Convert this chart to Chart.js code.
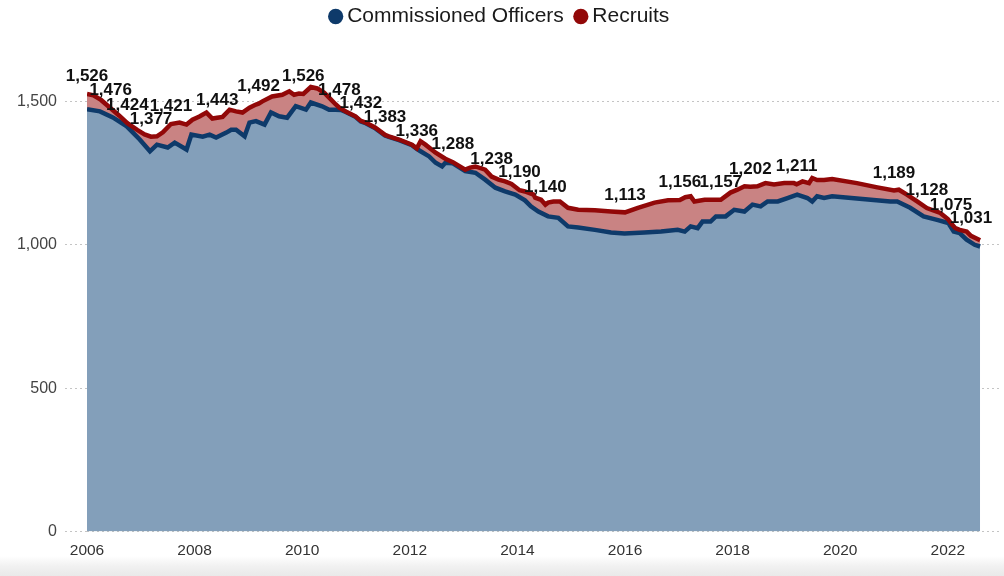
<!DOCTYPE html>
<html><head><meta charset="utf-8">
<script src="https://cdn.jsdelivr.net/npm/chart.js@4.4.1/dist/chart.umd.min.js"></script>
<style>
html,body{margin:0;padding:0;}
body{width:1004px;height:576px;overflow:hidden;background:linear-gradient(to bottom,#ffffff 0,#ffffff 556px,#f1f1f1 566px,#e9e9e9 576px);}
</style></head><body>
<canvas id="c" width="1004" height="576"></canvas>
<script>
// Commissioned Officers (bottom series)
const officerYears = [2006.00,2006.24,2006.48,2006.74,2006.98,2007.17,2007.30,2007.50,2007.63,2007.85,2007.94,2008.15,2008.28,2008.40,2008.59,2008.68,2008.77,2008.93,2009.02,2009.14,2009.30,2009.42,2009.57,2009.72,2009.88,2010.07,2010.16,2010.37,2010.50,2010.62,2010.72,2010.81,2010.99,2011.09,2011.18,2011.36,2011.54,2011.61,2011.80,2012.04,2012.13,2012.20,2012.36,2012.48,2012.60,2012.66,2012.80,2013.03,2013.22,2013.40,2013.59,2013.77,2013.96,2014.14,2014.25,2014.39,2014.57,2014.76,2014.94,2015.13,2015.44,2015.74,2015.99,2016.36,2016.67,2016.98,2017.11,2017.22,2017.35,2017.44,2017.59,2017.69,2017.87,2018.03,2018.22,2018.37,2018.52,2018.65,2018.84,2019.02,2019.20,2019.39,2019.48,2019.57,2019.70,2019.85,2020.31,2020.93,2021.06,2021.30,2021.55,2021.80,2022.01,2022.11,2022.22,2022.35,2022.50,2022.60];
const officerValues = [1473,1465,1444,1413,1367,1326,1349,1339,1356,1332,1384,1377,1384,1374,1391,1401,1401,1378,1426,1431,1419,1461,1448,1443,1483,1471,1496,1483,1471,1471,1470,1463,1446,1430,1424,1406,1381,1376,1365,1347,1334,1326,1308,1286,1273,1286,1284,1257,1251,1227,1199,1186,1175,1155,1134,1116,1099,1094,1064,1060,1052,1043,1039,1043,1046,1052,1046,1064,1058,1081,1081,1099,1099,1122,1116,1140,1134,1151,1151,1163,1175,1163,1151,1169,1163,1169,1161,1151,1151,1129,1099,1087,1076,1046,1041,1018,1000,994];

// Officers + Recruits (top edge of the Recruits band)
const totalYears = [2006.00,2006.12,2006.26,2006.44,2006.60,2006.75,2006.94,2007.07,2007.19,2007.30,2007.41,2007.56,2007.72,2007.85,2007.96,2008.09,2008.22,2008.33,2008.42,2008.52,2008.65,2008.77,2008.89,2009.02,2009.14,2009.19,2009.26,2009.44,2009.63,2009.76,2009.85,2009.94,2010.02,2010.16,2010.28,2010.41,2010.50,2010.62,2010.69,2010.81,2010.99,2011.09,2011.18,2011.36,2011.54,2011.61,2011.80,2012.04,2012.13,2012.20,2012.29,2012.48,2012.66,2012.80,2013.03,2013.12,2013.22,2013.40,2013.52,2013.65,2013.77,2013.89,2014.04,2014.14,2014.30,2014.33,2014.44,2014.52,2014.57,2014.67,2014.79,2014.94,2015.13,2015.44,2015.74,2016.00,2016.24,2016.55,2016.80,2017.02,2017.12,2017.22,2017.29,2017.48,2017.66,2017.78,2017.96,2018.09,2018.22,2018.33,2018.46,2018.61,2018.77,2018.96,2019.14,2019.19,2019.30,2019.42,2019.48,2019.57,2019.70,2019.85,2020.31,2020.69,2021.00,2021.09,2021.24,2021.43,2021.61,2021.86,2022.00,2022.06,2022.14,2022.22,2022.35,2022.43,2022.60];
const totalValues = [1526,1521,1505,1476,1450,1424,1400,1385,1377,1378,1392,1421,1426,1419,1436,1447,1461,1440,1443,1446,1471,1465,1461,1478,1489,1492,1500,1517,1523,1535,1523,1527,1526,1550,1545,1530,1513,1490,1478,1465,1448,1432,1426,1408,1383,1378,1367,1349,1336,1361,1349,1321,1300,1288,1262,1269,1273,1262,1238,1227,1221,1212,1190,1186,1175,1164,1157,1140,1147,1151,1151,1129,1122,1120,1116,1113,1129,1147,1155,1156,1166,1169,1151,1157,1157,1157,1182,1192,1204,1202,1204,1215,1210,1215,1215,1211,1221,1215,1233,1226,1226,1229,1215,1200,1189,1192,1175,1151,1128,1111,1090,1075,1058,1052,1046,1031,1016];

// points on the top line that carry a value label
const labelYears = [2006.00,2006.44,2006.75,2007.19,2007.56,2008.42,2009.19,2010.02,2010.69,2011.09,2011.54,2012.13,2012.80,2013.52,2014.04,2014.52,2016.00,2017.02,2017.78,2018.33,2019.19,2021.00,2021.61,2022.06,2022.43];

const xTickYears = [2006,2008,2010,2012,2014,2016,2018,2020,2022];
const yTickValues = [0,500,1000,1500];

const FONT = "'Liberation Sans', Arial, sans-serif";
Chart.defaults.font.family = FONT;

const legendFit = {
  id: 'legendFit',
  beforeInit(chart) {
    const lg = chart.legend;
    const orig = lg.fit;
    lg.fit = function () { orig.call(this); this.height = 54; };
  }
};

const dataLabels = {
  id: 'dataLabels',
  afterDatasetsDraw(chart) {
    const meta = chart.getDatasetMeta(1);
    const ctx = chart.ctx;
    ctx.save();
    ctx.font = "bold 17px " + FONT;
    ctx.fillStyle = '#111111';
    ctx.textAlign = 'center';
    ctx.textBaseline = 'bottom';
    labelYears.forEach(yr => {
      const i = totalYears.indexOf(yr);
      if (i < 0) return;
      const p = meta.data[i];
      ctx.fillText(totalValues[i].toLocaleString('en-US'), p.x, p.y - 9);
    });
    ctx.restore();
  }
};

new Chart(document.getElementById('c'), {
  type: 'line',
  data: {
    datasets: [
      {
        label: 'Commissioned Officers',
        data: officerYears.map((x, i) => ({ x, y: officerValues[i] })),
        borderColor: '#0e3a6a',
        backgroundColor: '#839fba',
        fill: 'origin',
        borderWidth: 4.5,
        pointRadius: 0,
        tension: 0,
        order: 1
      },
      {
        label: 'Recruits',
        data: totalYears.map((x, i) => ({ x, y: totalValues[i] })),
        borderColor: '#920808',
        backgroundColor: '#c98383',
        fill: '-1',
        borderWidth: 4.5,
        pointRadius: 0,
        tension: 0,
        order: 0
      }
    ]
  },
  options: {
    responsive: false,
    animation: false,
    devicePixelRatio: 1,
    layout: { padding: { top: -10, left: 4, right: 4, bottom: 0 } },
    plugins: {
      filler: { drawTime: 'beforeDatasetsDraw' },
      tooltip: { enabled: false },
      legend: {
        position: 'top',
        labels: {
          usePointStyle: true,
          pointStyle: 'circle',
          boxWidth: 2,
          boxHeight: 10.8,
          padding: 16,
          color: '#1a1a1a',
          font: { size: 21 },
          sort: (a, b) => a.datasetIndex - b.datasetIndex,
          generateLabels(chart) {
            const items = Chart.defaults.plugins.legend.labels.generateLabels(chart);
            items.forEach(it => {
              const ds = chart.data.datasets[it.datasetIndex];
              it.fillStyle = ds.borderColor;
              it.strokeStyle = ds.borderColor;
              it.lineWidth = 0;
            });
            return items;
          }
        }
      }
    },
    scales: {
      x: {
        type: 'linear',
        min: 2006,
        max: 2022.97,
        grid: { display: false },
        border: { display: false },
        ticks: {
          stepSize: 2, includeBounds: false, autoSkip: false, maxRotation: 0,
          padding: 2, color: '#333333', font: { size: 15.5 },
          callback: v => String(v)
        },
        afterBuildTicks(s) { s.ticks = xTickYears.map(v => ({ value: v })); },
        afterFit(s) { s.height = 44.4; }
      },
      y: {
        min: 0,
        max: 1700,
        grid: { color: '#c4c4c4', tickColor: '#c4c4c4', tickLength: 22, tickBorderDash: [2, 3], lineWidth: 1 },
        border: { display: false, dash: [2, 3] },
        ticks: {
          padding: 8, color: '#444444', font: { size: 16 },
          includeBounds: false,
          callback: v => Number(v).toLocaleString('en-US')
        },
        afterBuildTicks(s) { s.ticks = yTickValues.map(v => ({ value: v })); },
        afterFit(s) { s.width = 83; }
      }
    }
  },
  plugins: [legendFit, dataLabels]
});
</script>
</body></html>
